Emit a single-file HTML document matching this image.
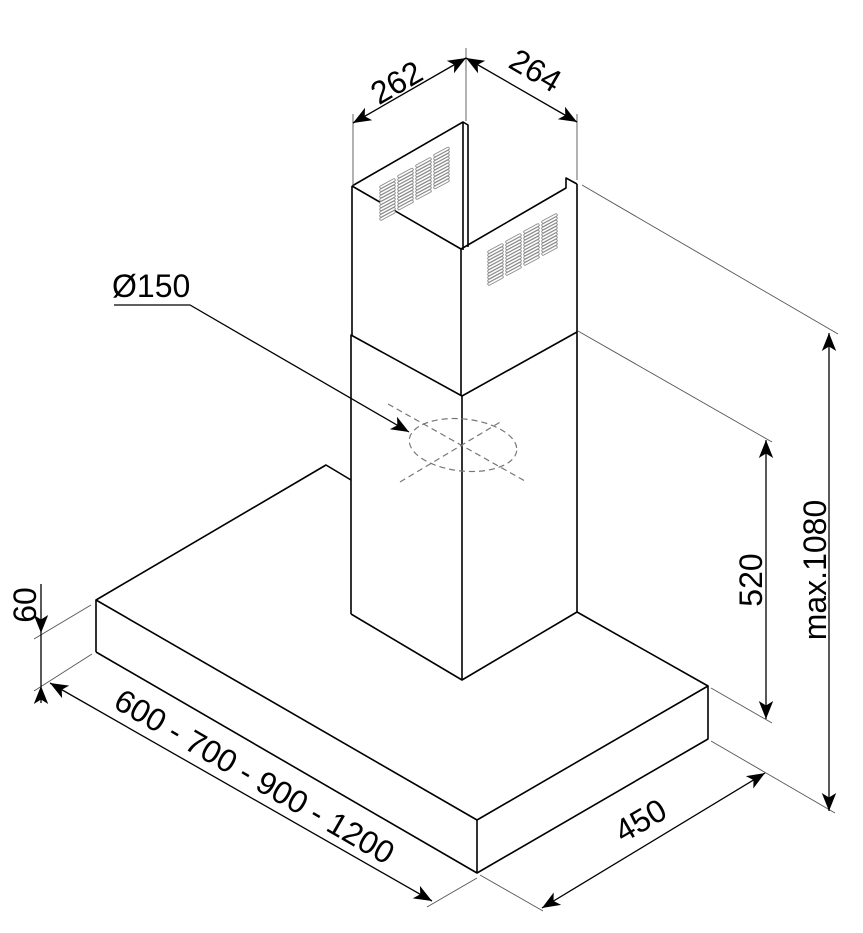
<!DOCTYPE html>
<html><head><meta charset="utf-8"><style>
html,body{margin:0;padding:0;background:#fff;}
svg{display:block;}
text{font-family:"Liberation Sans",Arial,sans-serif;font-size:32px;fill:#000;}
</style></head><body>
<svg width="863" height="933" viewBox="0 0 863 933" xmlns="http://www.w3.org/2000/svg">
<defs>
<marker id="ar" viewBox="0 0 10 10" refX="10" refY="5" markerWidth="18" markerHeight="18" markerUnits="userSpaceOnUse" orient="auto-start-reverse">
<path d="M0,1 L10,5 L0,9 L2.5,5 Z" fill="#000"/>
</marker>
<g id="slot"><line x1="0" y1="0" x2="13" y2="-7" stroke="#8a8a8a" stroke-width="3.4" stroke-linecap="round"/><line x1="0" y1="0" x2="13" y2="-7" stroke="#fff" stroke-width="1.6" stroke-linecap="round"/></g>
<g id="col">
<use href="#slot" y="0"/><use href="#slot" y="3.2"/><use href="#slot" y="6.4"/><use href="#slot" y="9.6"/><use href="#slot" y="12.8"/><use href="#slot" y="16"/><use href="#slot" y="19.2"/><use href="#slot" y="22.4"/><use href="#slot" y="25.6"/><use href="#slot" y="28.8"/><use href="#slot" y="32"/>
</g>
</defs>

<g fill="none" stroke="#000" stroke-width="1.6" stroke-linejoin="round">
<polyline points="96,652 96,600 326,465 351,480"/>
<polyline points="96,600 477,820 708,686 577,612"/>
<polyline points="96,652 477,873 708,739 708,686"/>
<line x1="477" y1="820" x2="477" y2="873"/>
<polyline points="351,614 351,335 462,396 577,332 577,612 462,680 351,614"/>
<line x1="462" y1="396" x2="462" y2="680"/>
<line x1="352" y1="186" x2="352" y2="335"/>
<line x1="577" y1="184" x2="577" y2="332"/>
<polyline points="352,186 463,122 468,125 468,247"/>
<line x1="463" y1="122" x2="463" y2="250"/>
<polyline points="352,186 461,249 566,188 566,178 577,184"/>
<line x1="461" y1="249" x2="461" y2="396"/>
</g>

<use href="#col" x="381" y="187"/><use href="#col" x="399" y="176.5"/><use href="#col" x="417" y="166"/><use href="#col" x="435" y="155.5"/>
<use href="#col" x="489" y="252"/><use href="#col" x="507" y="242"/><use href="#col" x="525" y="232"/><use href="#col" x="543" y="222"/>

<g fill="none" stroke="#777" stroke-width="1.2" stroke-dasharray="6,4">
<ellipse cx="463" cy="445" rx="54" ry="26" transform="rotate(6 463 445)"/>
<line x1="388" y1="404" x2="525" y2="481"/>
<line x1="400" y1="482" x2="502" y2="421"/>
</g>

<g stroke="#555" stroke-width="0.9">
<line x1="353" y1="114" x2="353" y2="186"/>
<line x1="466" y1="48" x2="466" y2="121"/>
<line x1="577" y1="114" x2="577" y2="180"/>
<line x1="582" y1="185" x2="838" y2="334"/>
<line x1="578" y1="331" x2="772" y2="442"/>
<line x1="711" y1="688" x2="772" y2="723"/>
<line x1="711" y1="741" x2="835" y2="813"/>
<line x1="480" y1="875" x2="543" y2="911"/>
<line x1="427" y1="907" x2="477" y2="878"/>
<line x1="34" y1="639" x2="91" y2="605"/>
<line x1="34" y1="691" x2="92" y2="654"/>
</g>

<g stroke="#000" stroke-width="1.3" fill="none">
<line x1="353" y1="123" x2="466" y2="58" marker-start="url(#ar)" marker-end="url(#ar)"/>
<line x1="466" y1="58" x2="577" y2="122" marker-start="url(#ar)" marker-end="url(#ar)"/>
<line x1="766" y1="440" x2="766" y2="719" marker-start="url(#ar)" marker-end="url(#ar)"/>
<line x1="829" y1="333" x2="829" y2="811" marker-start="url(#ar)" marker-end="url(#ar)"/>
<line x1="542" y1="908" x2="765" y2="773" marker-start="url(#ar)" marker-end="url(#ar)"/>
<line x1="50" y1="683" x2="432" y2="901" marker-start="url(#ar)" marker-end="url(#ar)"/>
<line x1="41" y1="584" x2="41" y2="633" marker-end="url(#ar)"/>
<line x1="41" y1="703" x2="41" y2="686" marker-end="url(#ar)"/>
<line x1="41" y1="633" x2="41" y2="686"/>
<polyline points="114,305 190,305 409,432" marker-end="url(#ar)"/>
</g>

<text x="0" y="0" text-anchor="middle" transform="translate(402,92) rotate(-30)">262</text>
<text x="0" y="0" text-anchor="middle" transform="translate(530,80) rotate(30)">264</text>
<text x="112" y="297">Ø150</text>
<text x="0" y="0" text-anchor="middle" transform="translate(36,605) rotate(-90)">60</text>
<text x="0" y="0" text-anchor="middle" transform="translate(762,580) rotate(-90)">520</text>
<text x="0" y="0" text-anchor="middle" transform="translate(826,570) rotate(-90)">max.1080</text>
<text x="0" y="0" text-anchor="middle" transform="translate(646,830) rotate(-30)">450</text>
<text x="0" y="0" text-anchor="middle" transform="translate(249,786) rotate(30)">600 - 700 - 900 - 1200</text>
</svg>
</body></html>
